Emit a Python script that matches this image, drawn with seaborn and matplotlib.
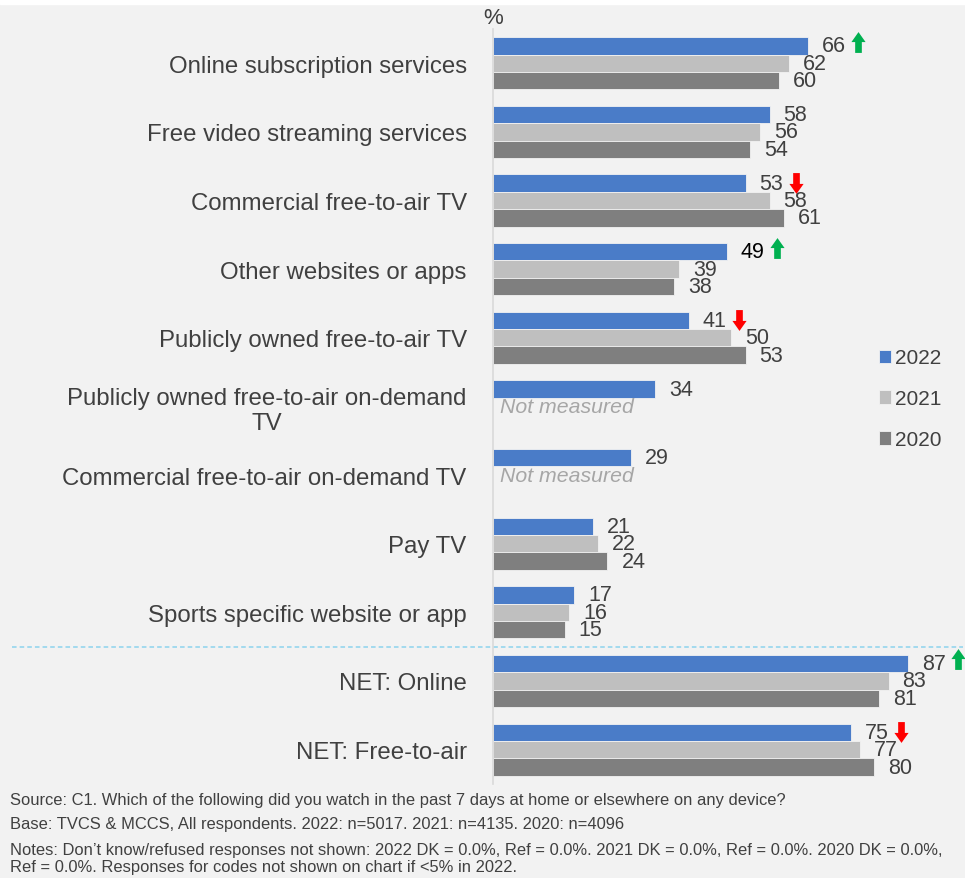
import numpy as np
import pandas as pd
import seaborn as sns
import matplotlib.pyplot as plt
from matplotlib.patches import Rectangle
from matplotlib.path import Path
import matplotlib.transforms as mtransforms

# chart data
categories = [
    'Online subscription services',
    'Free video streaming services',
    'Commercial free-to-air TV',
    'Other websites or apps',
    'Publicly owned free-to-air TV',
    'Publicly owned free-to-air on-demand\nTV',
    'Commercial free-to-air on-demand TV',
    'Pay TV',
    'Sports specific website or app',
    'NET: Online',
    'NET: Free-to-air',
]
years = ['2022', '2021', '2020']
v2022 = [66, 58, 53, 49, 41, 34, 29, 21, 17, 87, 75]
v2021 = [62, 56, 58, 39, 50, np.nan, np.nan, 22, 16, 83, 77]
v2020 = [60, 54, 61, 38, 53, np.nan, np.nan, 24, 15, 81, 80]
# significance arrows on 2022 values: 1 up, -1 down, 0 none
change = [1, 0, -1, 1, -1, 0, 0, 0, 0, 1, -1]

notes = [
    'Source: C1. Which of the following did you watch in the past 7 days at home or elsewhere on any device?',
    'Base: TVCS & MCCS, All respondents. 2022: n=5017. 2021: n=4135. 2020: n=4096',
    'Notes: Don\u2019t know/refused responses not shown: 2022 DK = 0.0%, Ref = 0.0%. 2021 DK = 0.0%, Ref = 0.0%. 2020 DK = 0.0%,\nRef = 0.0%. Responses for codes not shown on chart if <5% in 2022.',
]

colors = {'2022': '#4A7CC8', '2021': '#BFBFBF', '2020': '#7F7F7F'}
txt = '#404040'

df = pd.DataFrame({
    'category': categories * 3,
    'year': np.repeat(years, len(categories)),
    'value': v2022 + v2021 + v2020,
})

sns.set_style('white')
plt.rcParams['font.family'] = ['Liberation Sans', 'DejaVu Sans']

fig = plt.figure(figsize=(9.65, 8.79), dpi=100, facecolor='#F2F2F2')
ax = fig.add_axes([0.511, 0.107, 0.484, 0.859])
ax.set_facecolor('#F2F2F2')
fig.patches.append(Rectangle((0, 1 - 5 / 879), 1, 5 / 879, transform=fig.transFigure,
                             color='white', zorder=0))

sns.barplot(data=df, x='value', y='category', hue='year', hue_order=years,
            palette=colors, saturation=1, orient='h', width=0.76, ax=ax,
            edgecolor='#F2F2F2', linewidth=0.6, legend=True)

ax.set_xlim(0, 98)
ax.set_ylim(10.5, -0.5)
ax.set_xlabel('')
ax.set_ylabel('')
ax.set_xticks([])
ax.tick_params(axis='y', length=0, pad=19, labelsize=17.3, labelcolor=txt)
for lab in ax.get_yticklabels():
    lab.set_multialignment('center')
for s in ['top', 'right', 'bottom']:
    ax.spines[s].set_visible(False)
ax.spines['left'].set_color('#D9D9D9')
ax.spines['left'].set_linewidth(1.2)

# block arrow marker
up_arrow = Path([(-0.16, -0.5), (0.16, -0.5), (0.16, 0.02), (0.34, 0.02), (0, 0.5),
                 (-0.34, 0.02), (-0.16, 0.02), (-0.16, -0.5)],
                [Path.MOVETO] + [Path.LINETO] * 6 + [Path.CLOSEPOLY])
down_arrow = Path(up_arrow.vertices * [1, -1], up_arrow.codes)

# value labels
for yr, cont in zip(years, ax.containers):
    for i, bar in enumerate(cont):
        w = bar.get_width()
        if np.isnan(w):
            continue
        yc = bar.get_y() + bar.get_height() / 2
        ax.annotate(f'{w:.0f}', (w, yc), xytext=(10, 0), textcoords='offset points',
                    va='center', ha='left', fontsize=15.5,
                    color='black' if (yr == '2022' and i == 3) else txt)
        if yr == '2022' and change[i] != 0:
            up = change[i] > 0
            tr = mtransforms.offset_copy(ax.transData, fig=fig, x=36, y=3 if up else 0,
                                         units='points')
            ax.plot([w], [yc], transform=tr, marker=up_arrow if up else down_arrow,
                    markersize=15, color='#00B050' if up else '#FF0000',
                    markeredgewidth=0, clip_on=False)

# not measured rows
cont21 = ax.containers[0]
for i in range(len(categories)):
    if np.isnan(v2021[i]):
        yc = cont21[i].get_y() + cont21[i].get_height() * 1.5
        ax.annotate('Not measured', (0, yc), xytext=(5, 0), textcoords='offset points',
                    va='center', ha='left', fontsize=15.3, style='italic', color='#A6A6A6')

# dashed separator before NET rows
ax.axhline(8.5, xmin=-(493 - 12) / 467, xmax=(963 - 493) / 467, clip_on=False,
           color='#8DD3EE', ls=(0, (3, 2)), lw=1.1)

ax.text(0, -0.52, '%', transform=ax.get_yaxis_transform(), ha='center', va='bottom',
        fontsize=16, color=txt)

leg = ax.legend(loc='center left', bbox_to_anchor=(0.785, 0.51), frameon=False,
                fontsize=15, labelcolor=txt, handlelength=0.6, handleheight=0.6,
                handletextpad=0.2, labelspacing=1.05)

fig.text(0.010, 1 - 801 / 879, notes[0], fontsize=11.9, color=txt, va='center')
fig.text(0.010, 1 - 825 / 879, notes[1], fontsize=11.9, color=txt, va='center')
fig.text(0.010, 1 - 859 / 879, notes[2], fontsize=11.9, color=txt, va='center',
         linespacing=1.1)

fig.savefig('out.png', dpi=100, facecolor=fig.get_facecolor())
